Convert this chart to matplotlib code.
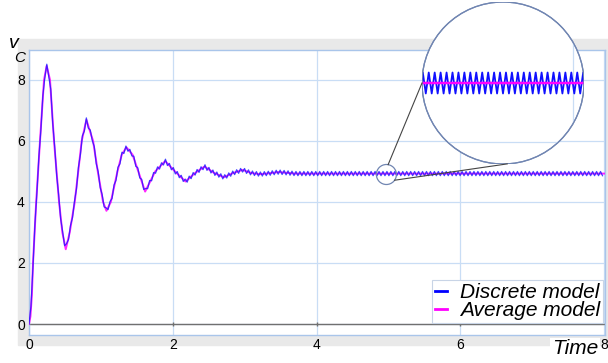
import matplotlib as mpl
mpl.use('Agg')

import matplotlib.pyplot as plt
from matplotlib.patches import Circle, Ellipse, Rectangle
from matplotlib.lines import Line2D
import numpy as np

plt.rcParams['font.family'] = ['Liberation Sans', 'DejaVu Sans']

# Average model: start-up transient of the output voltage (turning points + crossings)
avg_t = [0.00, 0.02, 0.04, 0.056, 0.10, 0.153, 0.209, 0.246, 0.292, 0.348,
         0.418, 0.464, 0.511, 0.566, 0.636, 0.733, 0.798, 0.891, 0.96, 1.03,
         1.077, 1.138, 1.23, 1.29, 1.355, 1.44, 1.52, 1.615, 1.755, 1.894,
         2.03, 2.177, 2.31, 2.44, 2.575, 2.71, 2.84, 2.97, 3.09, 3.21,
         3.34, 3.47, 3.70, 8.00]
avg_v = [0.00, 0.25, 0.95, 2.0, 4.0, 6.0, 8.0, 8.46, 8.0, 6.0,
         4.0, 3.0, 2.45, 3.0, 4.0, 6.0, 6.69, 6.0, 4.95, 4.0,
         3.71, 4.0, 5.0, 5.55, 5.79, 5.55, 5.0, 4.34, 5.0, 5.34,
         5.0, 4.67, 4.95, 5.16, 4.95, 4.81, 4.95, 5.05, 4.95, 4.91,
         4.94, 4.98, 4.93, 4.93]

# Discrete model: switching ripple riding on the same transient
switch_period = 0.055
ripple_pp = 0.14

x_ticks = [0, 2, 4, 6, 8]
y_ticks = [0, 2, 4, 6, 8]
labels = ["Discrete model", "Average model"]

blue = "#1818ff"
magenta = "#ff00ff"
grid_color = "#c9ddf5"
frame_color = "#a9c5ea"
band_color = "#e9e9e9"
ring_color = "#7186b2"

W, H = 608, 363

def fig_xy(xp, yp):
  # pixel position measured from the top-left corner -> figure fraction
  return xp / W, 1 - yp / H

t_disc = np.arange(0, 8.0 + 1e-9, switch_period / 2)
sign = np.where(np.arange(len(t_disc)) % 2 == 0, -1.0, 1.0)
v_disc = np.interp(t_disc, avg_t, avg_v) + sign * ripple_pp / 2
v_disc[0] = 0.0

fig = plt.figure(figsize=(W / 100, H / 100), dpi=100)

# grey band framing the plot area
fig.add_artist(Rectangle(fig_xy(18, 345), 590 / W, 306 / H,
                         transform=fig.transFigure, color=band_color, zorder=-1))

ax = fig.add_axes([29 / W, 28 / H, 576 / W, 285 / H])
ax.set_facecolor('white')
ax.set_xlim(0, 8.01)
ax.set_ylim(-0.36, 8.98)

ax.plot(avg_t, avg_v, color=magenta, lw=1.4, alpha=0.85, zorder=3)
ax.plot(t_disc, v_disc, color=blue, lw=0.9, alpha=0.8, zorder=4)

ax.axhline(0, color='#707070', lw=1.0, zorder=2)
ax.plot(x_ticks[1:-1], [0] * 3, '|', color='#707070', ms=3, mew=1, zorder=2)

ax.set_xticks(x_ticks)
ax.set_yticks(y_ticks)
ax.grid(color=grid_color, lw=0.9)
ax.set_axisbelow(True)
ax.tick_params(length=0, labelsize=10)
ax.tick_params(axis='x', pad=2)
ax.tick_params(axis='y', pad=3)
for s in ax.spines.values():
  s.set_color(frame_color)
  s.set_linewidth(1.0)

handles = [Line2D([], [], color='#0000ff', lw=2), Line2D([], [], color=magenta, lw=2)]
leg = ax.legend(handles, labels, loc='lower right',
                bbox_to_anchor=fig_xy(603, 323), bbox_transform=fig.transFigure,
                borderaxespad=0, prop=dict(style='italic', size=15),
                handlelength=0.6, handletextpad=0.6, labelspacing=-0.05,
                borderpad=0.15, fancybox=False, framealpha=1, edgecolor='#c8d4e6')
leg.get_frame().set_linewidth(0.8)

fig.text(*fig_xy(575, 349), 'Time', style='italic', size=15, ha='center', va='center',
         bbox=dict(fc='white', ec='none', pad=1))
fig.text(*fig_xy(14, 44), 'v', style='italic', size=14, ha='center', va='center')
fig.text(*fig_xy(20, 58), 'C', style='italic', size=11, ha='center', va='center')

# small ring marking the magnified window
spot = (4.97, 4.9)
ax.add_patch(Ellipse(spot, 20 / 71.8, 20 / 30.5, fill=False, ec=ring_color, lw=0.9, zorder=5))

# magnified view in a circle
axi = fig.add_axes([422 / W, 1 - 164 / H, 162 / W, 162 / H])
axi.set_axis_off()
axi.set_xlim(4.2, 5.7)
axi.set_ylim(4.39, 5.47)
ring = Circle((0.5, 0.5), 0.5, transform=axi.transAxes, fc='white', ec=ring_color, lw=0.9, zorder=1)
axi.add_patch(ring)
for y in [4.54, 4.94]:
  axi.axhline(y, color=grid_color, lw=0.9, zorder=1.5).set_clip_path(ring)
axi.axvline(5.6, color=grid_color, lw=0.9, zorder=1.5).set_clip_path(ring)
l1, = axi.plot(t_disc, v_disc, color='#1010ff', lw=1.3, zorder=2)
l2, = axi.plot(avg_t, avg_v, color=magenta, lw=1.8, zorder=3)
l1.set_clip_path(ring)
l2.set_clip_path(ring)
rim = Circle((0.5, 0.5), 0.5, transform=axi.transAxes, fill=False, ec=ring_color, lw=0.9, zorder=4)
axi.add_patch(rim)

# connector lines between the two rings (pixel geometry)
sx, sy = ax.transData.transform(spot)
sx, sy = sx, H - sy
big_c, big_r, small_r = (503, 83), 81, 10
def on_ring(c, r, ang):
  a = np.radians(ang)
  return c[0] + r * np.cos(a), c[1] - r * np.sin(a)
for a_small, a_big in [(80, 180), (-35, -87)]:
  p0 = fig_xy(*on_ring((sx, sy), small_r, a_small))
  p1 = fig_xy(*on_ring(big_c, big_r, a_big))
  fig.add_artist(Line2D([p0[0], p1[0]], [p0[1], p1[1]], transform=fig.transFigure,
                        color='#444444', lw=0.8, zorder=5))

fig.savefig('out.png', dpi=100)
